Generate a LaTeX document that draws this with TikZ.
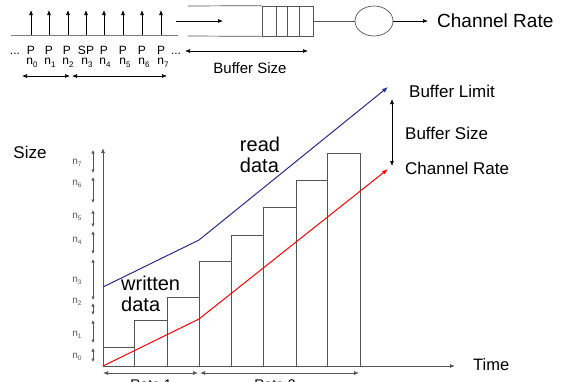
\documentclass[tikz,border=0pt]{standalone}
\usepackage{fontspec}
\setmainfont{Liberation Sans}
\usetikzlibrary{arrows.meta,shapes.geometric}
\definecolor{navyline}{RGB}{40,40,150}
\definecolor{axisgray}{RGB}{85,85,85}
\newcommand{\nsub}[1]{n\raisebox{-0.4ex}{\fontsize{8}{8}\selectfont #1}}
\newcommand{\nsubs}[1]{n\raisebox{-0.4ex}{\fontsize{6.5}{6.5}\selectfont #1}}
\begin{document}
\begin{tikzpicture}[x=1pt,y=-1pt,
  tipline/.style={-{Latex[length=5pt,width=4pt]}},
  dtip/.style={{Latex[length=5pt,width=4pt]}-{Latex[length=5pt,width=4pt]}},
  stip/.style={{Latex[length=3.5pt,width=3.5pt]}-{Latex[length=3.5pt,width=3.5pt]}},
  lbl/.style={inner sep=0pt, font=\fontsize{17}{17}\selectfont},
  big/.style={inner sep=0pt, align=left, font=\fontsize{20}{21}\selectfont},
  plbl/.style={inner sep=0pt, anchor=base, font=\fontsize{12}{12}\selectfont},
  slbl/.style={inner sep=0pt, text=axisgray, font=\fontsize{10}{10}\selectfont},
  bar/.style={draw=axisgray, line width=0.7pt},
]
\useasboundingbox (0,0) rectangle (570,381);

% ---- top left: packet stream ----
\draw[gray, line width=0.8pt] (11,35) -- (178,35);
\foreach \x in {31,49,68,86,104,123,142,161}
  \draw[tipline, line width=0.7pt] (\x,35) -- (\x,10);
\node[plbl] (dl) at (15,54) {...};
\node[plbl] (p0) at (31,54) {P};
\node[plbl] (p1) at (49,54) {P};
\node[plbl] (p2) at (67,54) {P};
\node[plbl] (p3) at (86,54) {SP};
\node[plbl] (p4) at (104,54) {P};
\node[plbl] (p5) at (123,54) {P};
\node[plbl] (p6) at (142,54) {P};
\node[plbl] (p7) at (161,54) {P};
\node[plbl] (dr) at (176,54) {...};
\foreach \x/\i in {32/0,50/1,68/2,87/3,105/4,125/5,144/6,163/7}
  \node[plbl] (n\i) at (\x,64.5) {\nsub{\i}};
\coordinate (a1) at (22,76);
\coordinate (a2) at (70,76);
\coordinate (a3) at (72,76);
\coordinate (a4) at (167,76);
\draw[dtip, line width=0.7pt] (a1) -- (a2);
\draw[dtip, line width=0.7pt] (a3) -- (a4);

% ---- queue ----
\node[draw=axisgray, line width=0.7pt, minimum width=51pt, minimum height=30pt, inner sep=0pt] (q) at (287.5,21) {};
\draw[axisgray, line width=0.7pt] (188,6) -- (q.north west) (188,36) -- (q.south west);
\foreach \x in {276,287,299} \draw[axisgray, line width=0.7pt] (\x,6) -- (\x,36);
\coordinate (in1) at (176,21);
\coordinate (in2) at (223,21);
\draw[tipline, line width=0.7pt] (in1) -- (in2);
\node[draw=axisgray, line width=0.7pt, ellipse, minimum width=38pt, minimum height=30pt, inner sep=0pt] (srv) at (374,21) {};
\draw[axisgray, line width=0.7pt] (q.east) -- (srv.west);
\node[lbl, anchor=west, font=\fontsize{19}{19}\selectfont] (cr) at (437,21) {Channel Rate};
\draw[tipline, line width=0.7pt] (srv.east) -- ([xshift=-9pt]cr.west);
\coordinate (b1) at (185,51);
\coordinate (b2) at (308,51);
\draw[dtip, line width=0.7pt] (b1) -- (b2);
\node[inner sep=0pt, font=\fontsize{15}{15}\selectfont] (bs) at (250,68) {Buffer Size};

% ---- chart ----
\node[lbl] (size) at (30,152) {Size};
\coordinate (o) at (103,366);
\coordinate (ytop) at (103,148);
\coordinate (xend) at (455,366);
\draw[axisgray, tipline, line width=0.8pt] (o) -- (ytop);
\draw[axisgray, tipline, line width=0.8pt] (o) -- (xend);
\node[lbl, anchor=west, font=\fontsize{16.5}{16.5}\selectfont] (time) at (473,365) {Time};

% bars
\foreach \a/\b/\t in {103/134/347,134/167/320,167/199/297,199/231/261,231/263/235,263/296/207,296/327/180,327/360/153}
  \draw[bar] (\a,366) -- (\a,\t) -- (\b,\t) -- (\b,366);

% size stack
\foreach \t/\b/\l/\i in {150/173/163/7,177/203/184/6,210/227/217/5,231/254/241/4,259/300/281/3,303/315/302/2,320/343/335/1,348/362/357/0}{
  \draw[stip, axisgray, line width=0.7pt] (93,\b) -- (93,\t);
  \node[slbl] (s\i) at (77,\l) {\nsubs{\i}};
}

% lines
\coordinate (bl0) at (103,287);
\coordinate (bl1) at (199,240);
\coordinate (bl2) at (388,87);
\draw[navyline, line width=1pt, -{Latex[length=6pt,width=4.5pt]}] (bl0) -- (bl1) -- (bl2);
\coordinate (rl0) at (103,366);
\coordinate (rl1) at (199,319);
\coordinate (rl2) at (388,169);
\draw[red, line width=1pt, -{Latex[length=6pt,width=4.5pt]}] (rl0) -- (rl1) -- (rl2);

\coordinate (d1) at (392,99);
\coordinate (d2) at (392,166);
\draw[dtip, line width=0.7pt] (d1) -- (d2);
\node[lbl, anchor=west] (blim) at (409,91) {Buffer Limit};
\node[lbl, anchor=west] (bsz) at (405,133) {Buffer Size};
\node[lbl, anchor=west] (crate) at (405,168) {Channel Rate};

\node[big] (rd) at (260,155) {read\\data};
\node[big, anchor=west] (wd) at (121,294) {written\\data};

% rate arrows
\coordinate (r1a) at (103,373);
\coordinate (r1b) at (198,373);
\coordinate (r2a) at (200,373);
\coordinate (r2b) at (359,373);
\draw[dtip, axisgray, line width=0.7pt] (r1a) -- (r1b);
\draw[dtip, axisgray, line width=0.7pt] (r2a) -- (r2b);
\node[inner sep=0pt, anchor=north, font=\fontsize{14}{14}\selectfont] (rt1) at (151,380) {Rate 1};
\node[inner sep=0pt, anchor=north, font=\fontsize{14}{14}\selectfont] (rt2) at (275,380) {Rate 2};
\end{tikzpicture}
\end{document}
